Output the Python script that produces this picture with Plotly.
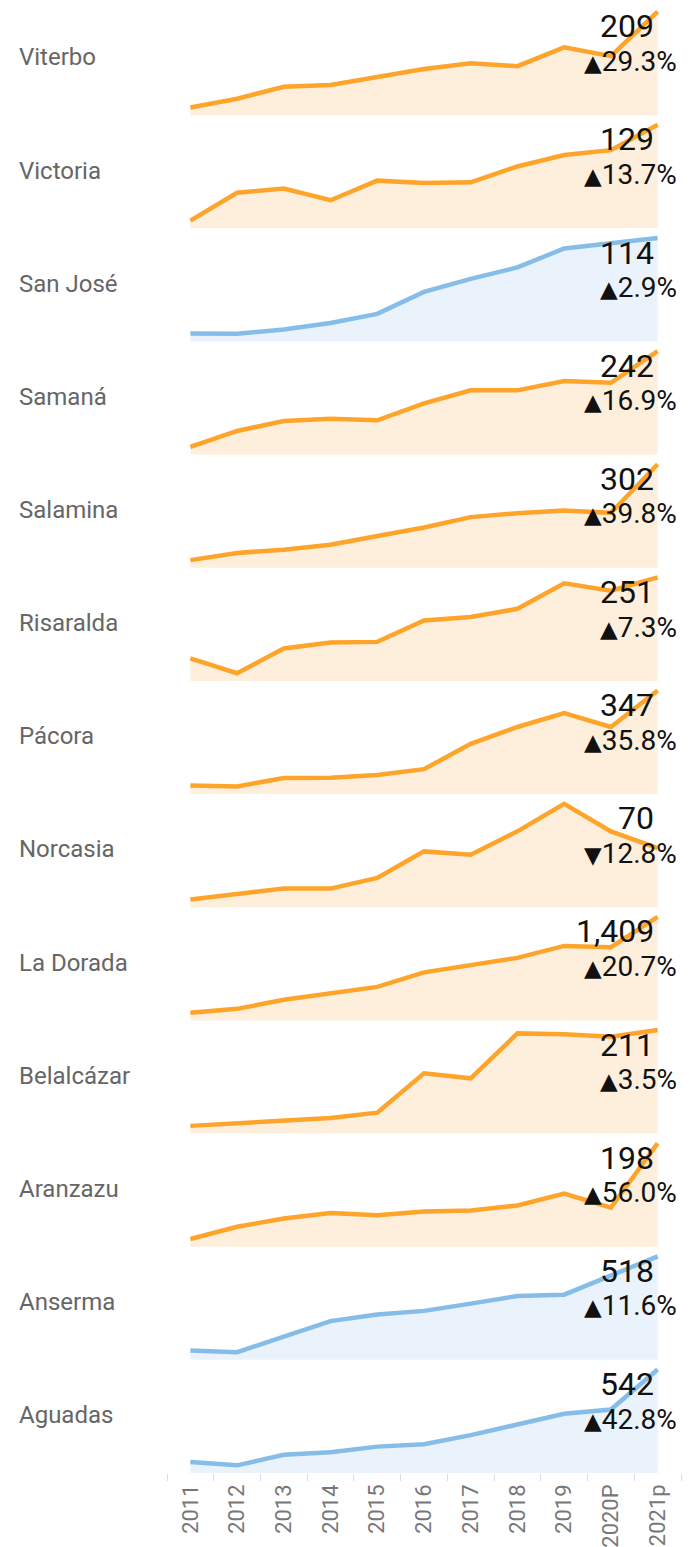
import plotly.graph_objects as go
from plotly.subplots import make_subplots

years = ['2011', '2012', '2013', '2014', '2015', '2016', '2017', '2018', '2019', '2020P', '2021p']

names = ['Viterbo', 'Victoria', 'San José', 'Samaná', 'Salamina', 'Risaralda', 'Pácora',
         'Norcasia', 'La Dorada', 'Belalcázar', 'Aranzazu', 'Anserma', 'Aguadas']

viterbo = [107, 116.3, 129, 131, 139.5, 147.9, 154.2, 151, 171, 161.6, 209]
victoria = [70.3, 87.4, 90, 82.8, 94.8, 93.4, 93.8, 103.5, 110.5, 113.5, 129]
san_jose = [51.8, 51.6, 54.4, 58.6, 64.6, 78.9, 87.4, 94.8, 107.2, 110.8, 114]
samana = [136, 153.7, 164.7, 167.3, 165.5, 184.2, 198.6, 198.6, 208.9, 207, 242]
salamina = [132.4, 145.1, 150.8, 159.5, 175.1, 190.1, 208.5, 215.5, 220.1, 216, 302]
risaralda = [146.3, 127, 159.1, 166.8, 167.6, 195.4, 199.7, 210.4, 243.3, 233.9, 251]
pacora = [108.4, 106, 127.2, 128, 134.6, 149.3, 213, 255.5, 290.6, 255.5, 347]
norcasia = [38.1, 41.2, 44.9, 44.9, 51.5, 67.9, 65.9, 80.3, 97.4, 80.3, 70]
la_dorada = [645.7, 676.5, 748.5, 799.9, 851.3, 967, 1023.5, 1082.6, 1177.7, 1167.4, 1409]
belalcazar = [107.5, 110, 112.5, 116, 121.8, 164.2, 158.9, 207.4, 206.4, 203.9, 211]
aranzazu = [92.1, 105.7, 114.7, 120.8, 118.3, 122.6, 123.7, 129.1, 142.4, 126.9, 198]
anserma = [253.5, 248.9, 292.5, 336.1, 354.7, 364.9, 385.3, 406.6, 410.4, 464.2, 518]
aguadas = [166.7, 153.3, 195.9, 206.6, 229.2, 238.5, 275.8, 318.4, 362.3, 379.6, 542]

series = [viterbo, victoria, san_jose, samana, salamina, risaralda, pacora,
          norcasia, la_dorada, belalcazar, aranzazu, anserma, aguadas]

# change vs previous year (%) as printed
changes = [29.3, 13.7, 2.9, 16.9, 39.8, 7.3, 35.8, -12.8, 20.7, 3.5, 56.0, 11.6, 42.8]

# palette group per municipality
groups = ['o', 'o', 'b', 'o', 'o', 'o', 'o', 'o', 'o', 'o', 'o', 'b', 'b']

LINE = {'o': '#FFA42B', 'b': '#85BDE8'}
FILL = {'o': '#FDEFDC', 'b': '#EAF3FB'}

n = len(names)
W, H = 691, 1547
ML, MR, MT, MB = 167, 10, 4, 74
plot_h = H - MT - MB
gap = 2
fig = make_subplots(rows=n, cols=1, shared_xaxes=True, vertical_spacing=gap / plot_h)

FONT = 'Roboto, sans-serif'

for i, (name, vals) in enumerate(zip(names, series)):
    g = groups[i]
    fig.add_trace(go.Scatter(
        x=years, y=vals, mode='lines',
        line=dict(color=LINE[g], width=4.5),
        fill='tozeroy', fillcolor=FILL[g],
        hoverinfo='skip', showlegend=False,
    ), row=i + 1, col=1)
    lo, hi = min(vals), max(vals)
    pad = (hi - lo) * 0.08
    fig.update_yaxes(range=[lo - pad, hi + pad], visible=False, row=i + 1, col=1)

    k = '' if i == 0 else str(i + 1)
    xd, yd = f'x{k} domain', f'y{k} domain'
    fig.add_annotation(xref='paper', yref=yd, x=-(ML - 17) / (W - ML - MR), y=0.52,
                       xanchor='left', yanchor='middle', showarrow=False,
                       text=name, font=dict(family=FONT, size=24, color='#666666'))
    fig.add_annotation(xref=xd, yref=yd, x=0.952, y=0.80,
                       xanchor='right', yanchor='middle', showarrow=False,
                       text=f'{vals[-1]:,.0f}', font=dict(family=FONT, size=32, color='#111111'))
    ch = changes[i]
    arrow = '▲' if ch >= 0 else '▼'
    fig.add_annotation(xref=xd, yref=yd, x=0.997, y=0.485,
                       xanchor='right', yanchor='middle', showarrow=False,
                       text=f'<span style="font-family:DejaVu Sans;font-size:23px">{arrow}</span>{abs(ch):.1f}%',
                       font=dict(family=FONT, size=28, color='#111111'))

fig.update_xaxes(type='category', range=[-0.5, 10.5], showgrid=False, zeroline=False,
                 showticklabels=False, ticks='', automargin=False)
fig.update_xaxes(row=n, col=1, showticklabels=True, ticks='outside', tickson='boundaries',
                 ticklen=7, tickcolor='#DDDDDD', tickwidth=1, tickangle=-90,
                 ticklabelstandoff=6, automargin=False,
                 tickfont=dict(family=FONT, size=22, color='#777777'))

fig.update_layout(width=W, height=H, margin=dict(l=ML, r=MR, t=MT, b=MB, autoexpand=False),
                  paper_bgcolor='white', plot_bgcolor='rgba(0,0,0,0)', showlegend=False)

fig.write_html('out.html', config={'displayModeBar': False},
               post_script="document.body.style.margin='0';")
